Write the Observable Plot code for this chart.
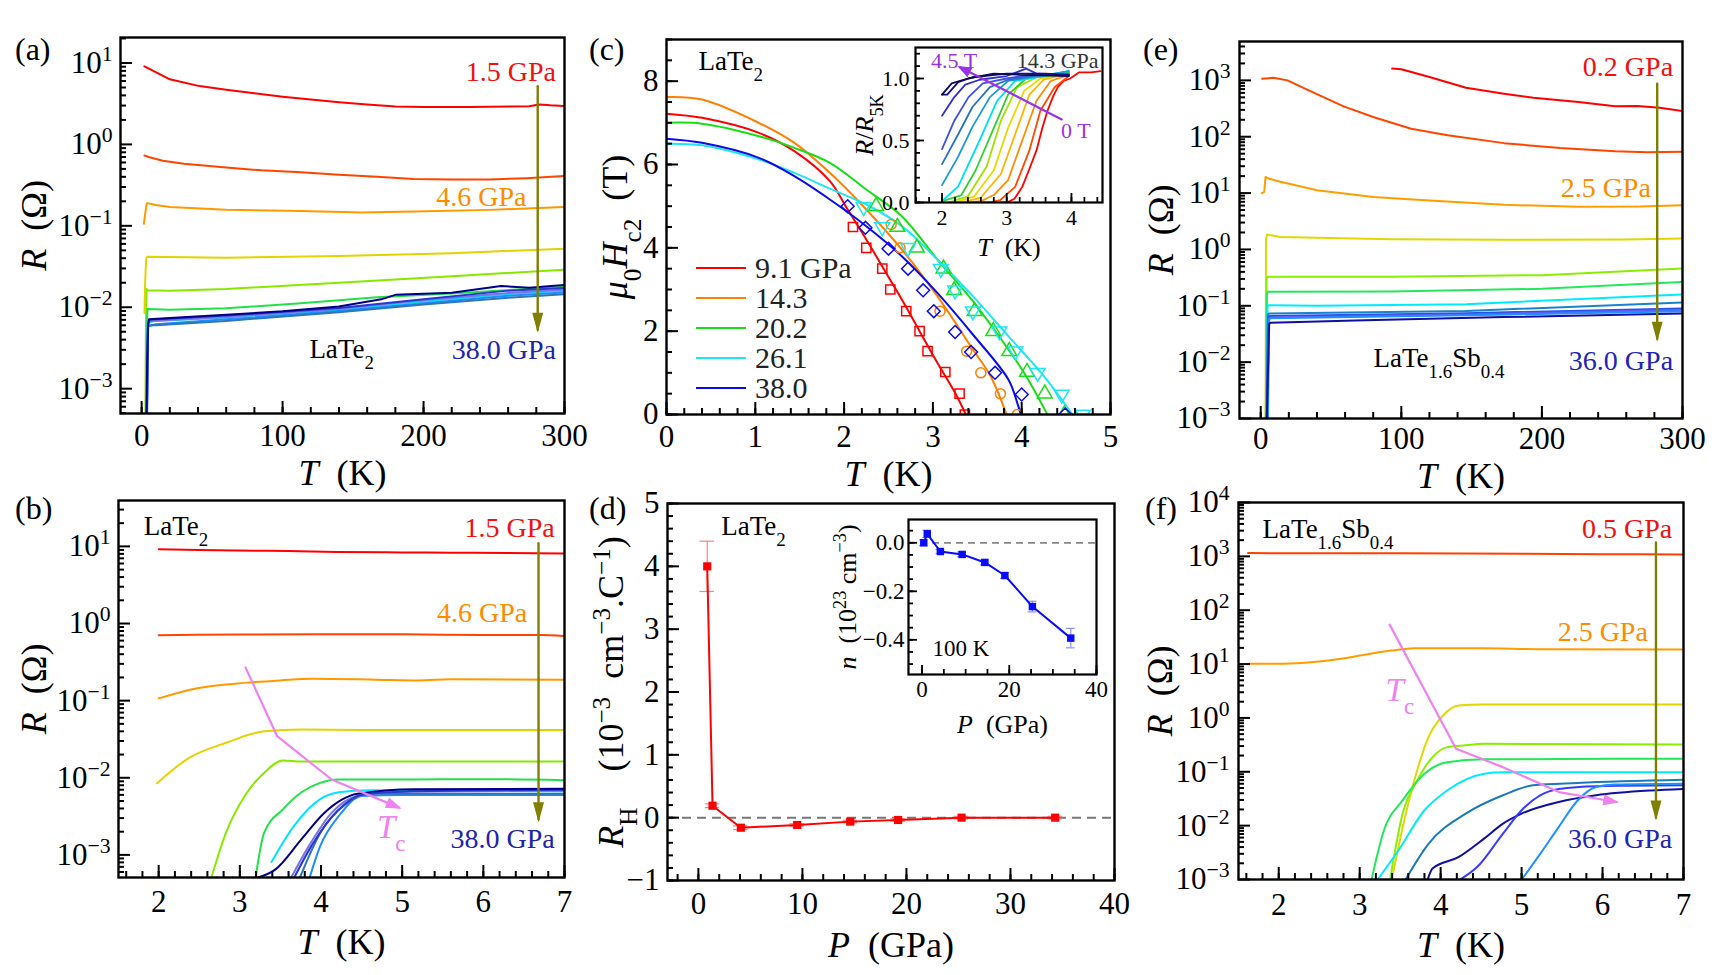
<!DOCTYPE html>
<html>
<head>
<meta charset="utf-8">
<script src="https://cdn.jsdelivr.net/npm/d3@7"></script>
<script src="https://cdn.jsdelivr.net/npm/@observablehq/plot@0.6"></script>
<style>
  html,body{margin:0;padding:0;background:#fff;}
  #fig{position:relative;width:1715px;height:975px;background:#fff;overflow:hidden;font-family:"Liberation Serif","DejaVu Serif",serif;color:#000;}
  .plabel{position:absolute;font-size:32px;line-height:32px;white-space:nowrap;}
  .leg{position:absolute;display:flex;align-items:center;height:30px;font-size:30px;color:#222;white-space:nowrap;}
  .leg span{display:inline-block;width:50px;height:0;border-top:2.5px solid;margin-right:9px;}
</style>
</head>
<body>
<div id="fig"></div>
<script>
const FONT = '"Liberation Serif","DejaVu Serif",serif';
const SVGNS = "http://www.w3.org/2000/svg";
const fig = document.getElementById("fig");

// ================= (a) LaTe2, R(T), 0-300 K =================
const aXTicks = [0, 100, 200, 300];
const aXTickLabels = ["0", "100", "200", "300"];
const aYTicks = [1e-3, 1e-2, 1e-1, 1, 10];
const aYTickLabels = ["10^{−3}", "10^{−2}", "10^{−1}", "10^{0}", "10^{1}"];
const aRed = [[2,9.1],[10,7.7],[20,6.3],[41,5.2],[60,4.7],[80,4.25],[100,3.85],[120,3.55],[140,3.3],[160,3.1],[180,2.92],[200,2.87],[233,2.88],[260,2.92],[275,2.95],[282,3.1],[290,3.02],[300,2.96]];
const aOrangeRed = [[2,0.73],[5,0.70],[15,0.63],[30,0.58],[60,0.52],[85,0.48],[113,0.454],[140,0.425],[167,0.40],[193,0.375],[220,0.37],[247,0.37],[273,0.385],[300,0.41]];
const aOrange = [[1.6,0.106],[2.5,0.14],[3.5,0.185],[4,0.19],[10,0.18],[20,0.17],[60,0.158],[113,0.152],[156,0.146],[193,0.15],[247,0.157],[300,0.17]];
const aYellow = [[2,0.0085],[2.4,0.018],[2.8,0.028],[3.3,0.040],[4,0.0417],[60,0.0405],[140,0.0425],[220,0.046],[300,0.0525]];
const aYG = [[2.62,0.0003],[2.83,0.002],[3.06,0.0058],[3.3,0.0116],[3.5,0.0168],[4,0.0162],[20,0.016],[60,0.0168],[140,0.020],[220,0.024],[300,0.029]];
const aGreen = [[3.18,0.0003],[3.3,0.002],[3.76,0.0065],[4.2,0.0095],[20,0.0093],[60,0.0097],[113,0.0112],[167,0.0133],[220,0.0148],[300,0.0179]];
const aCyan = [[3.39,0.0008],[4.2,0.0065],[10,0.0068],[60,0.0075],[140,0.0094],[200,0.0118],[260,0.0145],[300,0.016]];
const aDodger = [[3.8,0.0003],[4.5,0.0058],[10,0.0062],[60,0.0071],[140,0.009],[200,0.0112],[260,0.0138],[300,0.0152]];
const aSteel = [[3.6,0.0003],[4.6,0.006],[10,0.006],[60,0.0068],[140,0.0087],[200,0.0108],[260,0.0131],[300,0.0145]];
const aLavender = [[3.58,0.0003],[4.6,0.006],[6,0.0068],[60,0.0076],[140,0.0096],[200,0.0123],[260,0.015],[300,0.0165]];
const aBlue = [[3.6,0.0003],[4.5,0.006],[5.5,0.007],[60,0.0079],[140,0.0098],[200,0.0125],[260,0.016],[300,0.0172]];
const aNavy = [[3.2,0.0003],[3.8,0.0016],[4.5,0.0062],[5.2,0.0071],[20,0.0074],[60,0.0081],[100,0.0089],[140,0.0102],[170,0.0125],[180,0.0142],[220,0.0151],[255,0.0182],[275,0.0174],[300,0.0188]];
const aSeries = [aRed, aOrangeRed, aOrange, aYellow, aYG, aGreen, aCyan, aDodger, aSteel, aLavender, aBlue, aNavy];
const aColors = ["#ff0000","#ff4500","#ff9900","#e2d400","#8ae800","#22e04a","#00e4ff","#1e8cff","#2a78b8","#7c74e6","#2838d0","#000088"];

// ================= (b) LaTe2, R(T), low T =================
const bXTicks = [2, 3, 4, 5, 6, 7];
const bXTickLabels = ["2", "3", "4", "5", "6", "7"];
const bYTicks = [1e-3, 1e-2, 1e-1, 1, 10];
const bYTickLabels = ["10^{−3}", "10^{−2}", "10^{−1}", "10^{0}", "10^{1}"];
const bRed = [[2,9.2],[2.5,9.0],[3.2,8.8],[3.6,8.7],[4.2,8.45],[5,8.35],[5.6,8.3],[6.3,8.2],[7,8.1]];
const bOrangeRed = [[2,0.705],[3,0.72],[4,0.725],[5,0.725],[6,0.71],[6.7,0.71],[7,0.69]];
const bOrange = [[2,0.107],[2.46,0.144],[3.06,0.17],[3.5,0.183],[3.9,0.192],[4.68,0.187],[5.2,0.183],[5.6,0.19],[7,0.186]];
const bYellow = [[1.98,0.0085],[2.37,0.018],[2.83,0.0284],[3.3,0.040],[3.76,0.0422],[4.5,0.0415],[7,0.0415]];
const bYG = [[2.62,0.0004],[2.83,0.00195],[3.06,0.0058],[3.3,0.0116],[3.53,0.0168],[3.76,0.0162],[5,0.0162],[7,0.0162]];
const bGreen = [[3.18,0.0004],[3.3,0.00195],[3.53,0.0039],[3.76,0.0065],[3.99,0.0086],[4.22,0.0095],[5,0.0095],[6,0.0096],[7,0.0093]];
const bCyan = [[3.39,0.00081],[3.67,0.0024],[3.99,0.0053],[4.22,0.0065],[4.6,0.0069],[7,0.0067]];
const bDodger = [[3.83,0.0004],[3.99,0.0013],[4.22,0.0032],[4.5,0.0058],[5,0.006],[7,0.006]];
const bSteel = [[3.7,0.0004],[4.0,0.002],[4.3,0.0045],[4.6,0.0062],[7,0.0062]];
const bLavender = [[3.58,0.0004],[3.85,0.0013],[4.13,0.0035],[4.45,0.0058],[5,0.0066],[7,0.0068]];
const bBlue = [[3.62,0.0004],[3.9,0.0014],[4.2,0.0037],[4.5,0.006],[5,0.0066],[7,0.007]];
const bNavy = [[3.2,0.0005],[3.44,0.00065],[3.76,0.0016],[4.04,0.0035],[4.45,0.0062],[5.15,0.0071],[7,0.0072]];
const bSeries = [bRed, bOrangeRed, bOrange, bYellow, bYG, bGreen, bCyan, bDodger, bSteel, bLavender, bBlue, bNavy];
const bColors = aColors;
const bTcPath = [[3.07,0.27],[3.46,0.0346],[4.13,0.0095],[4.96,0.0041]];

// ================= (c) upper critical field =================
const cXTicks = [0, 1, 2, 3, 4, 5];
const cXTickLabels = ["0", "1", "2", "3", "4", "5"];
const cYTicks = [0, 2, 4, 6, 8];
const cYTickLabels = ["0", "2", "4", "6", "8"];
const cLegendLabels = ["9.1 GPa", "14.3", "20.2", "26.1", "38.0"];
const cColors = ["#ff0000", "#ff8000", "#18dd18", "#1ee6f2", "#0a0af0"];
const cFit91 = [[0,7.22],[0.4,7.12],[1.04,6.76],[1.44,6.32],[1.84,5.6],[2.04,4.92],[2.25,4.2],[2.45,3.48],[2.65,2.76],[2.85,2.0],[3.05,1.24],[3.25,0.52],[3.37,0]];
const cFit143 = [[0,7.62],[0.4,7.56],[1.04,7.0],[1.44,6.52],[1.84,5.8],[2.25,4.92],[2.65,3.96],[3.05,2.84],[3.45,1.56],[3.65,0.92],[3.83,0]];
const cFit202 = [[0,7.0],[0.4,6.98],[1.04,6.68],[1.44,6.4],[1.84,6.04],[2.25,5.4],[2.65,4.76],[3.05,3.72],[3.45,2.72],[3.85,1.56],[4.05,0.92],[4.29,0]];
const cFit261 = [[0,6.5],[0.4,6.46],[1.04,6.12],[1.44,5.8],[1.84,5.42],[2.25,5.04],[2.65,4.52],[3.05,3.72],[3.45,2.84],[3.85,1.88],[4.25,0.92],[4.57,0]];
const cFit380 = [[0,6.62],[0.4,6.52],[1.04,6.16],[1.44,5.72],[1.84,5.16],[2.25,4.52],[2.65,3.8],[3.05,2.92],[3.45,1.92],[3.85,0.84],[3.95,0.28],[3.99,0]];
const cPts91 = [[2.1,4.5],[2.25,4.0],[2.43,3.5],[2.52,3.0],[2.7,2.48],[2.85,2.0],[2.94,1.52],[3.14,1.02],[3.3,0.5],[3.36,0]];
const cPts143 = [[2.53,4.56],[2.63,4.0],[3.08,2.48],[3.38,1.52],[3.54,1.0],[3.76,0.5],[3.95,0]];
const cPts202 = [[2.36,5.0],[2.6,4.5],[2.82,4.0],[3.12,3.5],[3.24,2.98],[3.47,2.48],[3.68,2.0],[3.86,1.52],[4.06,1.02],[4.26,0.5],[4.48,0]];
const cPts261 = [[2.22,4.98],[2.43,4.5],[2.72,4.0],[3.09,3.5],[3.25,2.98],[3.45,2.48],[3.75,2.0],[3.93,1.52],[4.18,1.0],[4.45,0.48],[4.69,0]];
const cPts380 = [[2.04,5.0],[2.24,4.48],[2.5,3.98],[2.72,3.5],[2.89,2.98],[3.01,2.48],[3.25,1.98],[3.43,1.5],[3.7,1.0],[4.0,0.48],[4.49,0]];

// inset of (c): R/R5K vs T at 14.3 GPa, 0 T ... 4.5 T
const ciXTicks = [2, 3, 4];
const ciXTickLabels = ["2", "3", "4"];
const ciYTicks = [0, 0.5, 1.0];
const ciYTickLabels = ["0.0", "0.5", "1.0"];
const ci0 = [[2.9,0],[3.0,0],[3.12,0.03],[3.24,0.126],[3.35,0.27],[3.46,0.42],[3.55,0.6],[3.63,0.74],[3.72,0.86],[3.79,0.93],[3.88,0.98],[3.98,1.0],[4.12,1.05],[4.3,1.05],[4.45,1.06]];
const ci1 = [[2.6,0],[2.74,0],[2.9,0.02],[3.13,0.126],[3.35,0.42],[3.52,0.74],[3.74,0.93],[3.96,1.02]];
const ci2 = [[2.4,0],[2.6,0.01],[2.8,0.06],[3.02,0.18],[3.24,0.5],[3.46,0.82],[3.68,0.98],[3.96,1.03]];
const ci3 = [[2.3,0],[2.6,0.04],[2.91,0.23],[3.13,0.55],[3.35,0.87],[3.57,0.99],[3.96,1.04]];
const ci4 = [[2.2,0],[2.5,0.05],[2.8,0.26],[3.02,0.6],[3.27,0.9],[3.52,1.0],[3.96,1.05]];
const ci5 = [[2.1,0],[2.4,0.05],[2.69,0.29],[2.91,0.66],[3.16,0.93],[3.46,1.01],[3.96,1.04]];
const ci6 = [[2.0,0.01],[2.3,0.06],[2.52,0.26],[2.8,0.6],[3.02,0.87],[3.3,1.0],[3.96,1.05]];
const ci7 = [[2.0,0.01],[2.25,0.13],[2.58,0.5],[2.85,0.82],[3.13,0.98],[3.46,1.01],[3.96,1.06]];
const ci8 = [[2.0,0.14],[2.25,0.37],[2.47,0.61],[2.74,0.85],[3.02,0.98],[3.5,1.02],[3.96,1.06]];
const ci9 = [[2.0,0.31],[2.25,0.55],[2.47,0.77],[2.74,0.93],[3.02,0.99],[3.5,1.03],[3.96,1.04]];
const ci10 = [[2.0,0.43],[2.19,0.66],[2.41,0.85],[2.63,0.96],[3.0,1.0],[3.5,1.04],[3.96,1.03]];
const ci11 = [[2.0,0.7],[2.19,0.85],[2.36,0.95],[2.58,0.99],[3.0,1.02],[3.3,1.08],[3.5,1.03],[3.96,1.03]];
const ci12 = [[2.0,0.87],[2.08,0.87],[2.25,0.97],[2.47,1.01],[3.0,1.04],[3.6,1.04],[3.96,1.03]];
const ci13 = [[2.0,0.87],[2.15,0.96],[2.4,1.0],[2.8,1.04],[3.2,1.03],[3.96,1.02]];
const ciSeries = [ci0, ci1, ci2, ci3, ci4, ci5, ci6, ci7, ci8, ci9, ci10, ci11, ci12, ci13];
const ciColors = ["#ff0000","#ff4a00","#ff8c00","#ffb400","#e8d800","#a6e000","#30d030","#00e0f0","#1a9ad8","#2a70c0","#4050e0","#3030c8","#101080","#0a0a50"];

// ================= (d) Hall coefficient =================
const dXTicks = [0, 10, 20, 30, 40];
const dXTickLabels = ["0", "10", "20", "30", "40"];
const dYTicks = [-1, 0, 1, 2, 3, 4, 5];
const dYTickLabels = ["−1", "0", "1", "2", "3", "4", "5"];
const dP = [0.85, 1.36, 4.08, 9.5, 14.6, 19.2, 25.3, 34.3];
const dRH = [4.0, 0.19, -0.16, -0.116, -0.063, -0.037, 0.0, 0.0];
const dErr = [0.4, 0.03, 0.03, 0.02, 0.02, 0.02, 0.02, 0.02];
// inset of (d): carrier density
const diXTicks = [0, 20, 40];
const diXTickLabels = ["0", "20", "40"];
const diYTicks = [-0.4, -0.2, 0];
const diYTickLabels = ["−0.4", "−0.2", "0.0"];
const nP = [0.4, 1.2, 4.2, 9.2, 14.4, 19.0, 25.3, 34.1];
const nVal = [0.0, 0.037, -0.036, -0.048, -0.081, -0.135, -0.263, -0.393];
const nErr = [0.012, 0.015, 0.008, 0.01, 0.01, 0.012, 0.022, 0.04];

// ================= (e) LaTe1.6Sb0.4, R(T), 0-300 K =================
const eXTicks = [0, 100, 200, 300];
const eXTickLabels = ["0", "100", "200", "300"];
const eYTicks = [1e-3, 1e-2, 1e-1, 1, 10, 100, 1000];
const eYTickLabels = ["10^{−3}", "10^{−2}", "10^{−1}", "10^{0}", "10^{1}", "10^{2}", "10^{3}"];
const eRed = [[93.5,1620],[100,1580],[120,1150],[146,740],[173,580],[194,493],[226,413],[252,346],[268,350],[284,327],[300,286]];
const eOrangeRed = [[1,1070],[9,1110],[19,1000],[33,683],[45,500],[59,346],[80,224],[107,139],[133,106],[173,77],[213,63],[252,55],[275,53],[300,54]];
const eOrange = [[0.8,10],[2.5,10.5],[3.4,19.3],[6,18],[14,15.9],[40,11.2],[80,8.5],[120,7.4],[173,6.2],[226,5.7],[270,5.8],[300,6.1]];
const eYellow = [[3.4,0.0005],[3.8,1.5],[4.5,1.84],[14,1.67],[93,1.52],[173,1.48],[260,1.5],[300,1.57]];
const eYG = [[3.5,0.0005],[4.2,0.3],[4.8,0.326],[93,0.326],[200,0.35],[300,0.46]];
const eGreen = [[3.6,0.0005],[4.3,0.16],[5,0.177],[93,0.18],[200,0.2],[300,0.265]];
const eCyan = [[3.8,0.0005],[4.8,0.095],[5.5,0.102],[40,0.1],[146,0.107],[300,0.158]];
const eSteel = [[4,0.0005],[5,0.07],[6,0.073],[146,0.081],[300,0.115]];
const eBlue = [[4.2,0.0005],[5.5,0.063],[6,0.066],[146,0.074],[300,0.09]];
const eLavender = [[4.5,0.0005],[5.8,0.058],[6.5,0.062],[146,0.07],[300,0.085]];
const eDodger = [[5,0.0005],[6,0.058],[7,0.06],[146,0.068],[300,0.08]];
const eNavy = [[4,0.0005],[6,0.048],[7,0.05],[67,0.055],[173,0.063],[300,0.073]];
const eSeries = [eRed, eOrangeRed, eOrange, eYellow, eYG, eGreen, eCyan, eSteel, eBlue, eLavender, eDodger, eNavy];
const eColors = ["#ff0000","#ff4500","#ff9d00","#e0d800","#8aee00","#22e85a","#00eaff","#1a82c8","#2850e8","#5a5aff","#1e90ff","#10109c"];

// ================= (f) LaTe1.6Sb0.4, R(T), low T =================
const fXTicks = [2, 3, 4, 5, 6, 7];
const fXTickLabels = ["2", "3", "4", "5", "6", "7"];
const fYTicks = [1e-3, 1e-2, 1e-1, 1, 10, 100, 1000, 1e4];
const fYTickLabels = ["10^{−3}", "10^{−2}", "10^{−1}", "10^{0}", "10^{1}", "10^{2}", "10^{3}", "10^{4}"];
const fRed = [[1.62,1150],[3,1140],[5,1120],[6,1100],[7,1085]];
const fOrange = [[1.62,10.1],[2.15,10.3],[2.75,12.4],[3.11,15.4],[3.39,17.8],[3.67,19.6],[4.5,19.6],[5.2,18.9],[7,18.6]];
const fYellow = [[3.39,0.0009],[3.57,0.0167],[3.71,0.106],[3.85,0.44],[4.03,1.11],[4.22,1.7],[4.5,1.78],[7,1.78]];
const fYG = [[3.37,0.0009],[3.53,0.0167],[3.71,0.069],[3.9,0.187],[4.08,0.287],[4.31,0.31],[4.54,0.33],[7,0.32]];
const fGreen = [[3.14,0.0009],[3.3,0.0082],[3.53,0.0295],[3.8,0.092],[4.08,0.151],[4.54,0.17],[7,0.175]];
const fCyan = [[3.2,0.0009],[3.48,0.0035],[3.8,0.0193],[4.08,0.045],[4.54,0.092],[4.77,0.098],[7,0.098]];
const fSteel = [[3.55,0.0009],[3.85,0.0046],[4.31,0.0167],[4.77,0.0366],[5.14,0.056],[5.69,0.062],[7,0.071]];
const fNavy = [[3.83,0.0009],[3.9,0.0016],[4.22,0.0026],[4.54,0.0058],[4.77,0.0109],[5.0,0.0167],[5.46,0.0275],[5.92,0.0366],[6.6,0.045],[7,0.048]];
const fBlue = [[4.19,0.0009],[4.45,0.0017],[4.77,0.0071],[5.0,0.0193],[5.23,0.0366],[5.46,0.048],[5.92,0.054],[7,0.056]];
const fDodger = [[4.98,0.0009],[5.23,0.003],[5.46,0.0095],[5.69,0.029],[5.92,0.052],[6.15,0.058],[7,0.06]];
const fSeries = [fRed, fOrange, fYellow, fYG, fGreen, fCyan, fSteel, fNavy, fBlue, fDodger];
const fColors = ["#ff4000","#ff9d00","#e0d800","#8aee00","#22e85a","#00eaff","#1a7ab8","#10109c","#3a3aff","#1e90ff"];
const fTcPath = [[3.37,54],[4.19,0.267],[4.77,0.122],[5.46,0.042],[6.17,0.0275]];

// ================= helpers =================
const OLIVE = "#808000", VIOLET = "#ee82ee", PURPLE = "#9a32e6";
const ARROW_HEADS = {"#808000": [20, 11], "#ee82ee": [16, 11], "#9a32e6": [14, 11]};
function mapFmt(vals, labels) { const m = new Map(vals.map((v, i) => [v, labels[i]])); return d => (m.has(d) ? m.get(d) : ""); }
function logMinor(lo, hi) { const out = []; for (let e = Math.floor(Math.log10(lo)); e <= Math.ceil(Math.log10(hi)); e++) for (let k = 2; k <= 9; k++) { const v = k * Math.pow(10, e); if (v >= lo && v <= hi) out.push(v); } return out; }
function linMinor(lo, hi, step) { const out = []; const n0 = Math.ceil(lo / step - 1e-9), n1 = Math.floor(hi / step + 1e-9); for (let n = n0; n <= n1; n++) out.push(+(n * step).toFixed(6)); return out; }
const line = (data, color, extra = {}) => Plot.line(data, {x: d => d[0], y: d => d[1], stroke: color, strokeWidth: 2, clip: true, ...extra});
const label = (x, y, text, opts = {}) => Plot.text([{x, y, text}], {x: "x", y: "y", text: "text", fontSize: 28, lineAnchor: "middle", ...opts});
const arrow = (pts, color, w = 2.2) => Plot.line(pts, {x: d => d[0], y: d => d[1], stroke: color, strokeWidth: w});

let uid = 0;
function richify(svg) {
  svg.querySelectorAll("text").forEach(t => {
    const s = t.textContent;
    if (!/[\^_]\{|\*/.test(s)) return;
    while (t.firstChild) t.removeChild(t.firstChild);
    let italic = false, buf = "", i = 0;
    const add = (str, mode) => {
      const ts = document.createElementNS(SVGNS, "tspan");
      ts.textContent = str;
      if (italic) ts.setAttribute("font-style", "italic");
      if (mode) { ts.setAttribute("baseline-shift", mode); ts.setAttribute("font-size", "70%"); }
      t.appendChild(ts);
    };
    while (i < s.length) {
      const ch = s[i];
      if ((ch === "^" || ch === "_") && s[i + 1] === "{") {
        if (buf) { add(buf); buf = ""; }
        const j = s.indexOf("}", i);
        add(s.slice(i + 2, j), ch === "^" ? "super" : "sub");
        i = j + 1;
      } else if (ch === "*") {
        if (buf) { add(buf); buf = ""; }
        italic = !italic; i++;
      } else { buf += ch; i++; }
    }
    if (buf) add(buf);
  });
}
function addArrowHeads(svg) {
  let defs = null;
  Object.keys(ARROW_HEADS).forEach(color => {
    const groups = svg.querySelectorAll(`g[stroke="${color}"]`);
    if (!groups.length) return;
    if (!defs) { defs = document.createElementNS(SVGNS, "defs"); svg.insertBefore(defs, svg.firstChild); }
    const [Lh, Wh] = ARROW_HEADS[color];
    const id = "ah" + (++uid);
    const m = document.createElementNS(SVGNS, "marker");
    m.setAttribute("id", id); m.setAttribute("markerUnits", "userSpaceOnUse"); m.setAttribute("orient", "auto");
    m.setAttribute("markerWidth", Lh); m.setAttribute("markerHeight", Wh);
    m.setAttribute("viewBox", `0 0 ${Lh} ${Wh}`);
    m.setAttribute("refX", Lh - 3); m.setAttribute("refY", Wh / 2);
    m.setAttribute("overflow", "visible");
    const p = document.createElementNS(SVGNS, "path");
    p.setAttribute("d", `M0,0L${Lh},${Wh / 2}L0,${Wh}Z`); p.setAttribute("fill", color); p.setAttribute("stroke", "none");
    m.appendChild(p); defs.appendChild(m);
    groups.forEach(g => g.querySelectorAll("path").forEach(path => path.setAttribute("marker-end", `url(#${id})`)));
  });
}
function buildPanel(c) {
  const {L, T, W, H, mL, mR = 30, mT = 15, mB = 85, x, y, xTicks, xLabels, xMinor, yTicks, yLabels, yMinor,
         fs = 31, xPad = 12, yPad = 8, maj = 12, mnr = 6, frameW = 2.4, tickW = 2,
         xTitle, yTitle, xTitleDy, yTitleDx, titleFs = 36, marks = []} = c;
  const tk = {stroke: "black", strokeWidth: tickW};
  const svg = Plot.plot({
    width: W + mL + mR, height: H + mT + mB,
    marginLeft: mL, marginRight: mR, marginTop: mT, marginBottom: mB,
    x, y,
    style: {fontFamily: FONT, fontSize: fs + "px", background: "transparent", overflow: "visible", color: "black"},
    marks: [
      ...marks,
      Plot.tickX(xMinor, {x: d => d, insetTop: H - mnr, ...tk}),
      Plot.tickX(xTicks, {x: d => d, insetTop: H - maj, ...tk}),
      Plot.tickY(yMinor, {y: d => d, insetRight: W - mnr, ...tk}),
      Plot.tickY(yTicks, {y: d => d, insetRight: W - maj, ...tk}),
      Plot.axisX(xTicks, {tickSize: 0, tickPadding: xPad, tickFormat: mapFmt(xTicks, xLabels), fontSize: fs, label: null}),
      Plot.axisY(yTicks, {tickSize: 0, tickPadding: yPad, tickFormat: mapFmt(yTicks, yLabels), fontSize: fs, label: null}),
      Plot.frame({stroke: "black", strokeWidth: frameW}),
      Plot.text([xTitle], {text: d => d, frameAnchor: "bottom", dy: xTitleDy, fontSize: titleFs, textAnchor: "middle", lineAnchor: "middle"}),
      Plot.text([yTitle], {text: d => d, frameAnchor: "left", dx: yTitleDx, rotate: -90, fontSize: titleFs, textAnchor: "middle", lineAnchor: "middle"})
    ]
  });
  richify(svg);
  addArrowHeads(svg);
  svg.style.position = "absolute";
  svg.style.left = (L - mL) + "px";
  svg.style.top = (T - mT) + "px";
  fig.appendChild(svg);
  return svg;
}

const triDown = {draw(ctx, size) { const yy = -Math.sqrt(size / (Math.sqrt(3) * 3)); ctx.moveTo(0, -yy * 2); ctx.lineTo(-Math.sqrt(3) * yy, yy); ctx.lineTo(Math.sqrt(3) * yy, yy); ctx.closePath(); }};
const TK = "*T*\u2002(K)";
const ROHM = "*R*\u2002(Ω)";

// ---------- (a) ----------
const aXD = [-15, 300], aYD = [Math.pow(10, -3.305), Math.pow(10, 1.313)];
buildPanel({
  L: 120, T: 37, W: 444, H: 376, mL: 120,
  x: {domain: aXD}, y: {type: "log", domain: aYD},
  xTicks: aXTicks, xLabels: aXTickLabels, xMinor: linMinor(aXD[0], aXD[1], 20),
  yTicks: aYTicks, yLabels: aYTickLabels, yMinor: logMinor(aYD[0], aYD[1]),
  xPad: 10, xTitle: TK, yTitle: ROHM, xTitleDy: 60, yTitleDx: -86,
  marks: [
    ...aSeries.map((s, i) => line(s, aColors[i])),
    arrow([[281, 5.19], [281, 0.0053]], OLIVE, 2.4),
    label(294, 7.7, "1.5 GPa", {fill: "#f01010", textAnchor: "end"}),
    label(273, 0.225, "4.6 GPa", {fill: "#ff8c00", textAnchor: "end"}),
    label(294, 0.0030, "38.0 GPa", {fill: "#2222aa", textAnchor: "end"}),
    label(119, 0.0030, "LaTe_{2}", {textAnchor: "start", fontSize: 27})
  ]
});

// ---------- (b) ----------
const bXD = [1.505, 7], bYD = [Math.pow(10, -3.293), Math.pow(10, 1.595)];
buildPanel({
  L: 118, T: 500, W: 446, H: 377, mL: 118,
  x: {domain: bXD}, y: {type: "log", domain: bYD},
  xTicks: bXTicks, xLabels: bXTickLabels, xMinor: linMinor(bXD[0], bXD[1], 0.2),
  yTicks: bYTicks, yLabels: bYTickLabels, yMinor: logMinor(bYD[0], bYD[1]),
  xPad: 12, xTitle: TK, yTitle: ROHM, xTitleDy: 65, yTitleDx: -84,
  marks: [
    ...bSeries.map((s, i) => line(s, bColors[i], {curve: "monotone-x"})),
    arrow(bTcPath, VIOLET, 2.2),
    arrow([[6.68, 11], [6.68, 0.0029]], OLIVE, 2.4),
    label(1.815, 18.2, "LaTe_{2}", {textAnchor: "start", fontSize: 27}),
    label(6.88, 17.3, "1.5 GPa", {fill: "#f01010", textAnchor: "end"}),
    label(6.54, 1.37, "4.6 GPa", {fill: "#ff8c00", textAnchor: "end"}),
    label(6.88, 0.0016, "38.0 GPa", {fill: "#2222aa", textAnchor: "end"}),
    label(4.69, 0.00226, "*T*_{c}", {fill: VIOLET, textAnchor: "start", fontSize: 33})
  ]
});

// ---------- (c) ----------
const cXD = [0, 5], cYD = [0, 9];
const cFits = [cFit91, cFit143, cFit202, cFit261, cFit380];
buildPanel({
  L: 666, T: 39, W: 444, H: 375, mL: 90,
  x: {domain: cXD}, y: {domain: cYD},
  xTicks: cXTicks, xLabels: cXTickLabels, xMinor: linMinor(0, 5, 0.2),
  yTicks: cYTicks, yLabels: cYTickLabels, yMinor: linMinor(0, 9, 0.5),
  xPad: 10, xTitle: TK, yTitle: "*μ*_{0}*H*_{c2}\u2002(T)", xTitleDy: 60, yTitleDx: -51,
  marks: [
    ...cFits.map((s, i) => line(s, cColors[i], {curve: "catmull-rom"})),
    Plot.dot(cPts91, {x: d => d[0], y: d => d[1], symbol: "square", r: 5.2, stroke: cColors[0], strokeWidth: 1.5, clip: true}),
    Plot.dot(cPts143, {x: d => d[0], y: d => d[1], symbol: "circle", r: 5, stroke: cColors[1], strokeWidth: 1.5, clip: true}),
    Plot.dot(cPts202, {x: d => d[0], y: d => d[1], symbol: "triangle", r: 5.5, stroke: cColors[2], strokeWidth: 1.5, clip: true}),
    Plot.dot(cPts261, {x: d => d[0], y: d => d[1], symbol: triDown, r: 5.5, stroke: cColors[3], strokeWidth: 1.5, clip: true}),
    Plot.dot(cPts380, {x: d => d[0], y: d => d[1], symbol: "diamond2", r: 5.8, stroke: cColors[4], strokeWidth: 1.5, clip: true}),
    label(0.36, 8.48, "LaTe_{2}", {textAnchor: "start", fontSize: 27})
  ]
});
cLegendLabels.forEach((lab, i) => {
  const d = document.createElement("div");
  d.className = "leg";
  d.style.left = "696px";
  d.style.top = (268 + 30 * i - 15) + "px";
  d.innerHTML = `<span style="border-top-color:${cColors[i]}"></span>${lab}`;
  fig.appendChild(d);
});
// inset (c)
const ciXD = [1.59, 4.48], ciYD = [0, 1.25];
buildPanel({
  L: 915, T: 47, W: 187, H: 155, mL: 70, mR: 10, mT: 10, mB: 60,
  x: {domain: ciXD}, y: {domain: ciYD},
  xTicks: ciXTicks, xLabels: ciXTickLabels, xMinor: linMinor(1.6, 4.48, 0.2),
  yTicks: ciYTicks, yLabels: ciYTickLabels, yMinor: linMinor(0, 1.25, 0.1),
  fs: 22, xPad: 7, yPad: 6, maj: 9, mnr: 5, frameW: 2.2, tickW: 1.8,
  xTitle: TK, yTitle: "*R*/*R*_{5K}", xTitleDy: 45, yTitleDx: -51, titleFs: 26,
  marks: [
    ...ciSeries.map((s, i) => line(s, ciColors[i], {strokeWidth: 1.8})),
    arrow([[3.85, 0.67], [2.28, 1.09]], PURPLE, 2.2),
    label(1.83, 1.14, "4.5 T", {fill: PURPLE, textAnchor: "start", fontSize: 22}),
    label(4.42, 1.14, "14.3 GPa", {fill: "#333", textAnchor: "end", fontSize: 22}),
    label(3.84, 0.58, "0 T", {fill: PURPLE, textAnchor: "start", fontSize: 22})
  ]
});

// ---------- (d) ----------
const dXD = [-2.97, 40], dYD = [-1, 5];
const dRows = dP.map((p, i) => ({P: p, R: dRH[i], e: dErr[i]}));
buildPanel({
  L: 667, T: 503, W: 447, H: 377, mL: 90,
  x: {domain: dXD}, y: {domain: dYD},
  xTicks: dXTicks, xLabels: dXTickLabels, xMinor: linMinor(dXD[0], 40, 2),
  yTicks: dYTicks, yLabels: dYTickLabels, yMinor: linMinor(-1, 5, 0.2),
  xPad: 11, xTitle: "*P*\u2002(GPa)", yTitle: "*R*_{H}\u2003(10^{−3}\u2002cm^{−3}.C^{−1})", xTitleDy: 65, yTitleDx: -56,
  marks: [
    Plot.ruleY([0], {stroke: "#777", strokeWidth: 2, strokeDasharray: "9,6"}),
    Plot.ruleX(dRows, {x: "P", y1: d => d.R - d.e, y2: d => d.R + d.e, stroke: "#ff8080", strokeWidth: 1.2}),
    Plot.ruleY(dRows, {y: d => d.R + d.e, x1: d => d.P - 0.7, x2: d => d.P + 0.7, stroke: "#ff8080", strokeWidth: 1.2}),
    Plot.ruleY(dRows, {y: d => d.R - d.e, x1: d => d.P - 0.7, x2: d => d.P + 0.7, stroke: "#ff8080", strokeWidth: 1.2}),
    Plot.line(dRows, {x: "P", y: "R", stroke: "#ff0000", strokeWidth: 2}),
    Plot.dot(dRows, {x: "P", y: "R", symbol: "square", r: 4.6, fill: "#ff0000"}),
    label(2.2, 4.63, "LaTe_{2}", {textAnchor: "start", fontSize: 27})
  ]
});
// inset (d)
const diXD = [-3.1, 40], diYD = [-0.543, 0.096];
const nRows = nP.map((p, i) => ({P: p, n: nVal[i], e: nErr[i]}));
buildPanel({
  L: 908, T: 519, W: 188, H: 155, mL: 75, mR: 10, mT: 10, mB: 60,
  x: {domain: diXD}, y: {domain: diYD},
  xTicks: diXTicks, xLabels: diXTickLabels, xMinor: linMinor(-3.1, 40, 5),
  yTicks: diYTicks, yLabels: diYTickLabels, yMinor: linMinor(-0.54, 0.096, 0.05),
  fs: 23, xPad: 6, yPad: 4, maj: 9, mnr: 5, frameW: 2.2, tickW: 1.8,
  xTitle: "*P*\u2002(GPa)", yTitle: "*n*\u2002(10^{23} cm^{−3})", xTitleDy: 50, yTitleDx: -61, titleFs: 26,
  marks: [
    Plot.ruleY([0], {stroke: "#888", strokeWidth: 1.8, strokeDasharray: "7,5"}),
    Plot.ruleX(nRows, {x: "P", y1: d => d.n - d.e, y2: d => d.n + d.e, stroke: "#8c8cff", strokeWidth: 1.2}),
    Plot.ruleY(nRows, {y: d => d.n + d.e, x1: d => d.P - 1, x2: d => d.P + 1, stroke: "#8c8cff", strokeWidth: 1.2}),
    Plot.ruleY(nRows, {y: d => d.n - d.e, x1: d => d.P - 1, x2: d => d.P + 1, stroke: "#8c8cff", strokeWidth: 1.2}),
    Plot.line(nRows, {x: "P", y: "n", stroke: "#0a0aff", strokeWidth: 2}),
    Plot.dot(nRows, {x: "P", y: "n", symbol: "square", r: 4.2, fill: "#0a0aff"}),
    label(2.4, -0.437, "100 K", {textAnchor: "start", fontSize: 23})
  ]
});

// ---------- (e) ----------
const eXD = [-15.1, 300], eYD = [1e-3, Math.pow(10, 3.69)];
buildPanel({
  L: 1239, T: 41, W: 443, H: 377, mL: 110, mR: 33,
  x: {domain: eXD}, y: {type: "log", domain: eYD},
  xTicks: eXTicks, xLabels: eXTickLabels, xMinor: linMinor(eXD[0], eXD[1], 20),
  yTicks: eYTicks, yLabels: eYTickLabels, yMinor: logMinor(eYD[0], eYD[1]),
  xPad: 8, yPad: 9, xTitle: TK, yTitle: ROHM, xTitleDy: 58, yTitleDx: -78,
  marks: [
    ...eSeries.map((s, i) => line(s, eColors[i])),
    arrow([[282, 873], [282, 0.026]], OLIVE, 2.4),
    label(293.3, 1722, "0.2 GPa", {fill: "#f01010", textAnchor: "end"}),
    label(277.5, 12.5, "2.5 GPa", {fill: "#ff8c00", textAnchor: "end"}),
    label(293.3, 0.0106, "36.0 GPa", {fill: "#2424b4", textAnchor: "end"}),
    label(80.2, 0.0116, "LaTe_{1.6}Sb_{0.4}", {textAnchor: "start", fontSize: 27})
  ]
});

// ---------- (f) ----------
const fXD = [1.503, 7], fYD = [1e-3, 1e4];
buildPanel({
  L: 1238, T: 502, W: 445, H: 377, mL: 110, mR: 32,
  x: {domain: fXD}, y: {type: "log", domain: fYD},
  xTicks: fXTicks, xLabels: fXTickLabels, xMinor: linMinor(fXD[0], fXD[1], 0.2),
  yTicks: fYTicks, yLabels: fYTickLabels, yMinor: logMinor(fYD[0], fYD[1]),
  xPad: 13, yPad: 9, xTitle: TK, yTitle: ROHM, xTitleDy: 66, yTitleDx: -78,
  marks: [
    ...fSeries.map((s, i) => line(s, fColors[i], {curve: "monotone-x"})),
    arrow(fTcPath, VIOLET, 2.2),
    arrow([[6.66, 1807], [6.66, 0.0141]], OLIVE, 2.4),
    label(1.80, 3190, "LaTe_{1.6}Sb_{0.4}", {textAnchor: "start", fontSize: 27}),
    label(6.86, 3190, "0.5 GPa", {fill: "#f01010", textAnchor: "end"}),
    label(6.56, 38.8, "2.5 GPa", {fill: "#ff8c00", textAnchor: "end"}),
    label(6.86, 0.00575, "36.0 GPa", {fill: "#2424b4", textAnchor: "end"}),
    label(3.32, 3.22, "*T*_{c}", {fill: VIOLET, textAnchor: "start", fontSize: 33})
  ]
});

// ---------- panel letters ----------
const panelLetters = ["(a)", "(b)", "(c)", "(d)", "(e)", "(f)"];
const letterPos = [[15, 33], [15, 492], [589, 33], [589, 492], [1143, 33], [1145, 492]];
panelLetters.forEach((t, i) => {
  const d = document.createElement("div");
  d.className = "plabel";
  d.textContent = t;
  d.style.left = letterPos[i][0] + "px";
  d.style.top = letterPos[i][1] + "px";
  fig.appendChild(d);
});
</script>
</body>
</html>
